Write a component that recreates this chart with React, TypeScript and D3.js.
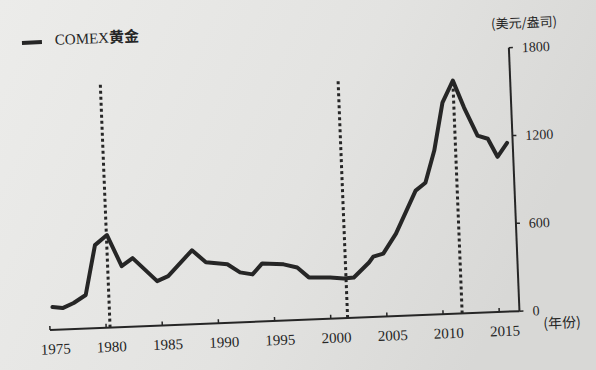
import React from "react";
import * as d3 from "d3";

// decimal year positions and COMEX gold price (USD/oz)
const years = [
  1975.3, 1976.2, 1977.2, 1978.3, 1979.3, 1980.4, 1981.6, 1982.6, 1984.7, 1985.7,
  1987.9, 1989.1, 1991.0, 1992.1, 1993.2, 1994.1, 1996.0, 1997.2, 1998.2, 2000.1,
  2001.3, 2002.2, 2003.6, 2004.0, 2004.9, 2006.1, 2008.0, 2008.9, 2009.8, 2010.7,
  2011.7, 2012.6, 2013.7, 2014.6, 2015.4, 2016.3,
];
const prices = [
  156, 146, 178, 229, 567, 632, 416, 468, 304, 335,
  505, 420, 400, 341, 324, 396, 384, 359, 288, 281,
  271, 275, 373, 412, 430, 563, 851, 902, 1119, 1444,
  1591, 1404, 1209, 1185, 1059, 1152,
];
const xTicks = [1975, 1980, 1985, 1990, 1995, 2000, 2005, 2010, 2015];
const yTicks = [0, 600, 1200, 1800];
const markerYears = [1980.35, 2001.5, 2011.7];
const markerTops = [1660, 1620, 1591];
const seriesName = "COMEX";
const seriesNameCn = "黄金";
const yUnit = "(美元/盎司)";
const xUnit = "(年份)";

export default function App() {
  const W = 596, H = 370;
  const x = d3.scaleLinear().domain([1975, 2015]).range([0, 449.6]);
  const y = d3.scaleLinear().domain([0, 1800]).range([0, -263.6]);
  const axisX = x(2016.8);
  const data = years.map((t, i) => [t, prices[i]] as [number, number]);
  const line = d3.line<[number, number]>().x(d => x(d[0])).y(d => y(d[1]));
  const ink = "#262626";
  const serif = "'Liberation Serif', 'Times New Roman', serif";
  const cjk = "'Noto Sans CJK SC', sans-serif";

  return (
    <svg width={W} height={H} style={{ position: "absolute", left: 0, top: 0 }}>
      <defs>
        <linearGradient id="paper" x1="0" y1="0" x2="1" y2="0.3">
          <stop offset="0" stopColor="#ececea" />
          <stop offset="0.6" stopColor="#e3e3e1" />
          <stop offset="1" stopColor="#d8d8d6" />
        </linearGradient>
      </defs>
      <rect width={W} height={H} fill="url(#paper)" />
      <g transform="translate(50,330) rotate(-2.3)">
        {/* legend */}
        <line x1={-16.5} x2={3.5} y1={-288} y2={-288} stroke={ink} strokeWidth={4} />
        <text x={16.5} y={-290} dy="0.35em" fontSize={15} fill={ink}>
          <tspan fontFamily={serif}>{seriesName}</tspan>
          <tspan fontFamily={cjk} fontWeight={700}>{seriesNameCn}</tspan>
        </text>
        {/* marker dotted lines */}
        {markerYears.map((t, i) => (
          <line key={t} x1={x(t)} x2={x(t)} y1={0} y2={y(markerTops[i])}
            stroke={ink} strokeWidth={3} strokeDasharray="3 3" />
        ))}
        {/* x axis */}
        <line x1={0} x2={axisX} y1={0} y2={0} stroke={ink} strokeWidth={2} />
        {xTicks.map(t => (
          <g key={t}>
            <line x1={x(t)} x2={x(t)} y1={0} y2={-4} stroke={ink} strokeWidth={1.5} />
            <text x={x(t) + 5} y={19} dy="0.35em" textAnchor="middle"
              fontFamily={serif} fontSize={15} fill={ink}>{t}</text>
          </g>
        ))}
        <text x={512} y={13.5} dy="0.35em" textAnchor="middle" fontFamily={cjk}
          fontSize={14} fill={ink}>{xUnit}</text>
        {/* y axis */}
        <line x1={axisX} x2={axisX} y1={0} y2={y(1800)} stroke={ink} strokeWidth={2} />
        {yTicks.map(v => (
          <g key={v}>
            <line x1={axisX} x2={axisX + 4} y1={y(v)} y2={y(v)} stroke={ink} strokeWidth={1.5} />
            <text x={axisX + 13} y={y(v)} dy="0.35em" textAnchor="start"
              fontFamily={serif} fontSize={14} fill={ink}>{v}</text>
          </g>
        ))}
        <text x={486} y={-288} dy="0.35em" textAnchor="middle" fontFamily={cjk}
          fontSize={13} fill={ink}>{yUnit}</text>
        {/* series */}
        <path d={line(data) || ""} fill="none" stroke={ink} strokeWidth={4}
          strokeLinejoin="round" strokeLinecap="round" />
      </g>
    </svg>
  );
}
